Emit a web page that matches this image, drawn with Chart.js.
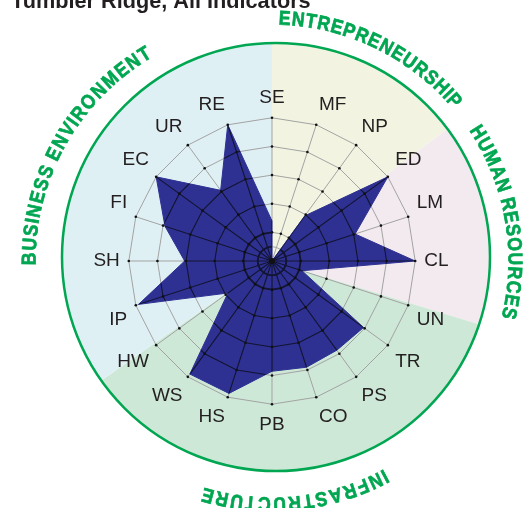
<!DOCTYPE html>
<html>
<head>
<meta charset="utf-8">
<script src="https://cdn.jsdelivr.net/npm/chart.js@4.4.1/dist/chart.umd.min.js"></script>
<style>
  html, body { margin: 0; padding: 0; background: #fff; }
  #wrap { width: 530px; height: 508px; position: relative; overflow: hidden; }
</style>
</head>
<body>
<div id="wrap"><canvas id="radarChart" width="530" height="508"></canvas></div>
<script>
// chart data
const chartTitle = 'Tumbler Ridge, All Indicators';
const indicators = ['SE', 'MF', 'NP', 'ED', 'LM', 'CL', 'UN', 'TR', 'PS', 'CO',
                    'PB', 'HS', 'WS', 'HW', 'IP', 'SH', 'FI', 'EC', 'UR', 'RE'];
const scores = [1.4, 0, 1.95, 5, 3.05, 5, 1.1, 3.95, 3.85, 3.9,
                3.85, 4.86, 4.88, 1.9, 4.9, 3.05, 3.93, 5, 3.05, 5];
const ringValues = [0, 0.5, 1, 2, 3, 4, 5];
const sectionNames = ['ENTREPRENEURSHIP', 'HUMAN RESOURCES', 'INFRASTRUCTURE', 'BUSINESS ENVIRONMENT'];

// section wedges, degrees clockwise from the top
const sectionStart = [0, 53, 107, 235];
const sectionEnd = [53, 107, 235, 360];
const sectionColors = ['#f2f4e1', '#f3eaf0', '#cde8d6', '#dff0f5'];
const labelFrom = [3, 58, 152.3, 270.5];
const labelTo = [48.6, 102.4, 195.3, 328.3];

const green = '#00a651';
const navy = '#2e3192';

function rad(deg) {
  return (deg - 90) * Math.PI / 180;
}

// background wedges, outer ring, curved section names and title
const backdropPlugin = {
  id: 'backdrop',
  beforeDraw(chart) {
    const ctx = chart.ctx;
    const r = chart.scales.r;
    const cx = r.xCenter, cy = r.yCenter;
    const ox = cx + 4, oy = cy - 4, oR = 214;

    ctx.save();
    ctx.beginPath();
    ctx.arc(ox, oy, oR, 0, Math.PI * 2);
    ctx.clip();
    sectionNames.forEach((name, i) => {
      ctx.beginPath();
      ctx.moveTo(cx, cy);
      ctx.arc(cx, cy, 400, rad(sectionStart[i]), rad(sectionEnd[i]));
      ctx.closePath();
      ctx.fillStyle = sectionColors[i];
      ctx.fill();
    });
    ctx.restore();

    ctx.save();
    ctx.beginPath();
    ctx.arc(ox, oy, oR, 0, Math.PI * 2);
    ctx.strokeStyle = green;
    ctx.lineWidth = 2.5;
    ctx.stroke();
    ctx.restore();

    // curved names
    ctx.save();
    ctx.font = 'bold 20px "Liberation Sans", Arial, sans-serif';
    ctx.fillStyle = green;
    ctx.strokeStyle = green;
    ctx.lineWidth = 0.7;
    ctx.textAlign = 'center';
    ctx.textBaseline = 'middle';
    const textR = 242;
    const squeeze = 0.88;
    sectionNames.forEach((name, i) => {
      const chars = name.split('');
      const widths = chars.map(ch => ctx.measureText(ch).width);
      let acc = 0;
      const mids = widths.map(w => { const m = acc + w / 2; acc += w; return m; });
      const first = mids[0], last = mids[mids.length - 1];
      chars.forEach((ch, k) => {
        if (ch === ' ') return;
        const deg = labelFrom[i] + (mids[k] - first) / (last - first) * (labelTo[i] - labelFrom[i]);
        const a = deg * Math.PI / 180;
        ctx.save();
        ctx.translate(cx + textR * Math.sin(a), cy - textR * Math.cos(a));
        ctx.rotate(a);
        ctx.scale(squeeze, 1);
        ctx.fillText(ch, 0, 0);
        ctx.strokeText(ch, 0, 0);
        ctx.restore();
      });
    });
    ctx.restore();

    // title, partly above the top edge
    ctx.save();
    ctx.font = 'bold 21.7px "Liberation Sans", Arial, sans-serif';
    ctx.fillStyle = '#231f20';
    ctx.textAlign = 'left';
    ctx.textBaseline = 'alphabetic';
    ctx.fillText(chartTitle, 11, 7.5);
    ctx.restore();
  },
  afterDatasetsDraw(chart) {
    // grid seen through the filled shape is darker
    const ctx = chart.ctx;
    const r = chart.scales.r;
    const pts = chart.getDatasetMeta(0).data;
    ctx.save();
    ctx.beginPath();
    pts.forEach((p, i) => { if (i === 0) ctx.moveTo(p.x, p.y); else ctx.lineTo(p.x, p.y); });
    ctx.closePath();
    ctx.clip();
    ctx.strokeStyle = '#121430';
    ctx.lineWidth = 1.1;
    indicators.forEach((lab, i) => {
      const p = r.getPointPositionForValue(i, 5);
      ctx.beginPath();
      ctx.moveTo(r.xCenter, r.yCenter);
      ctx.lineTo(p.x, p.y);
      ctx.stroke();
    });
    ringValues.filter(v => v > 0).forEach(v => {
      ctx.lineWidth = v <= 1 ? 1.8 : 1.1;
      ctx.beginPath();
      indicators.forEach((lab, i) => {
        const p = r.getPointPositionForValue(i, v);
        if (i === 0) ctx.moveTo(p.x, p.y); else ctx.lineTo(p.x, p.y);
      });
      ctx.closePath();
      ctx.stroke();
    });
    ctx.restore();
  },
  afterDraw(chart) {
    // small dots where rings meet spokes
    const ctx = chart.ctx;
    const r = chart.scales.r;
    ctx.save();
    ctx.fillStyle = '#111';
    ringValues.filter(v => v >= 1).forEach(v => {
      indicators.forEach((lab, i) => {
        const p = r.getPointPositionForValue(i, v);
        ctx.beginPath();
        ctx.arc(p.x, p.y, 1.3, 0, Math.PI * 2);
        ctx.fill();
      });
    });
    ctx.beginPath();
    ctx.arc(r.xCenter, r.yCenter, 3, 0, Math.PI * 2);
    ctx.fill();
    ctx.restore();
  }
};

const ctx = document.getElementById('radarChart').getContext('2d');
const radarChart = new Chart(ctx, {
  type: 'radar',
  data: {
    labels: indicators,
    datasets: [{
      label: 'Score',
      data: scores,
      backgroundColor: navy,
      borderColor: navy,
      borderWidth: 1,
      pointRadius: 0,
      fill: true
    }]
  },
  options: {
    responsive: false,
    animation: false,
    devicePixelRatio: 1,
    layout: {
      padding: { left: 91, right: 79, top: 86, bottom: 71 }
    },
    scales: {
      r: {
        min: 0,
        max: 5,
        afterBuildTicks: function(scale) {
          scale.ticks = ringValues.map(v => ({ value: v }));
        },
        ticks: { display: false },
        grid: { color: '#a3a3a3', lineWidth: 1 },
        angleLines: { color: '#a3a3a3', lineWidth: 1 },
        pointLabels: {
          color: '#231f20',
          padding: 9,
          font: { family: '"Liberation Sans", Arial, sans-serif', size: 19 }
        }
      }
    },
    plugins: {
      legend: { display: false },
      tooltip: { enabled: false }
    }
  },
  plugins: [backdropPlugin]
});
</script>
</body>
</html>
